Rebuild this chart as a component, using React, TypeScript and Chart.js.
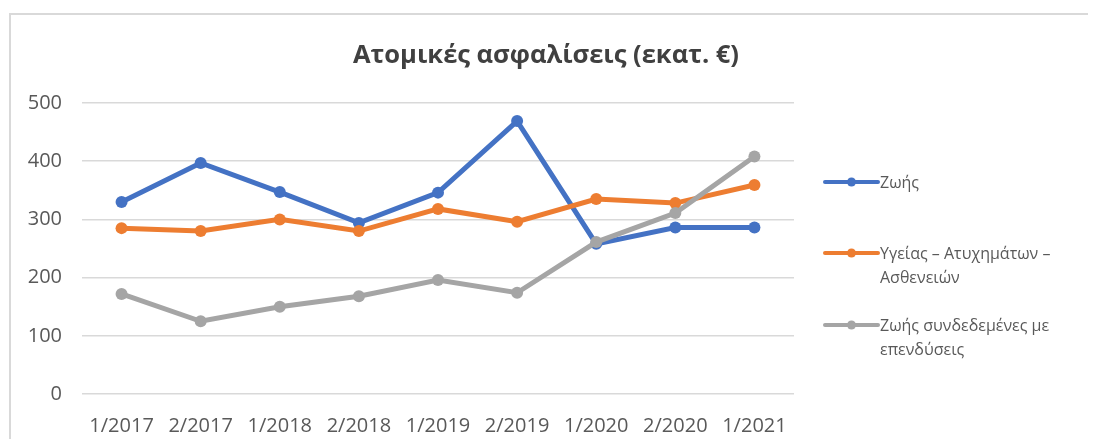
import React, { useEffect, useRef } from "react";
import { Chart, registerables } from "chart.js";

Chart.register(...registerables);

const categories = ["1/2017", "2/2017", "1/2018", "2/2018", "1/2019", "2/2019", "1/2020", "2/2020", "1/2021"];
const lifeValues = [330, 397, 347, 294, 346, 469, 258, 286, 286];
const healthValues = [285, 280, 300, 280, 318, 296, 335, 328, 359];
const investValues = [172, 125, 150, 168, 196, 174, 261, 311, 408];
const seriesNames = ["Ζωής", "Υγείας – Ατυχημάτων – Ασθενειών", "Ζωής συνδεδεμένες με επενδύσεις"];
const legendLines = [["Ζωής"], ["Υγείας – Ατυχημάτων –", "Ασθενειών"], ["Ζωής συνδεδεμένες με", "επενδύσεις"]];
const seriesColors = ["#4472C4", "#ED7D31", "#A5A5A5"];
const titleText = "Ατομικές ασφαλίσεις (εκατ. €)";

const FONT = "'Open Sans', 'Noto Sans', sans-serif";
const TEXT = "#595959";

const titleLegendPlugin = {
  id: "titleLegend",
  afterDraw(chart: any) {
    const ctx = chart.ctx;
    ctx.save();
    // title
    ctx.fillStyle = "#404040";
    ctx.font = `bold 25.5px ${FONT}`;
    ctx.textAlign = "center";
    ctx.textBaseline = "alphabetic";
    ctx.fillText(titleText, chart.width / 2, 48);
    // legend
    const x0 = chart.chartArea.right + 31;
    const x1 = x0 + 53;
    const tx = x1 + 2;
    const rows = [167, 238, 310];
    legendLines.forEach((lines, i) => {
      const y = rows[i];
      ctx.strokeStyle = seriesColors[i];
      ctx.lineWidth = 4;
      ctx.lineCap = "round";
      ctx.beginPath();
      ctx.moveTo(x0, y);
      ctx.lineTo(x1, y);
      ctx.stroke();
      ctx.fillStyle = seriesColors[i];
      ctx.beginPath();
      ctx.arc((x0 + x1) / 2, y, 4.5, 0, Math.PI * 2);
      ctx.fill();
      ctx.fillStyle = TEXT;
      ctx.font = `16px ${FONT}`;
      ctx.textBaseline = "middle";
      ctx.textAlign = "left";
      lines.forEach((t, j) => ctx.fillText(t, tx, y + 1 + j * 24));
    });
    ctx.restore();
  },
};

export default function App() {
  const ref = useRef<HTMLCanvasElement>(null);
  useEffect(() => {
    if (!ref.current) return;
    const mk = (data: number[], i: number, order: number) => ({
      label: seriesNames[i],
      data,
      borderColor: seriesColors[i],
      backgroundColor: seriesColors[i],
      borderWidth: 5,
      pointRadius: 6,
      pointBorderWidth: 0,
      pointBackgroundColor: seriesColors[i],
      tension: 0,
      order,
    });
    const chart = new Chart(ref.current, {
      type: "line",
      data: {
        labels: categories,
        datasets: [mk(lifeValues, 0, 3), mk(healthValues, 1, 2), mk(investValues, 2, 1)],
      },
      options: {
        animation: false,
        responsive: false,
        layout: { padding: { left: 0, right: 287, top: 88, bottom: 0 } },
        plugins: {
          legend: { display: false },
          tooltip: { enabled: false },
          title: { display: false },
        },
        scales: {
          x: {
            offset: true,
            grid: { display: false, drawTicks: false },
            border: { display: false },
            ticks: { color: TEXT, font: { family: FONT, size: 20 }, padding: 20, maxRotation: 0, autoSkip: false },
            afterFit: (axis: any) => {
              axis.height = 45;
            },
          },
          y: {
            min: 0,
            max: 500,
            ticks: { stepSize: 100, color: TEXT, font: { family: FONT, size: 20 }, padding: 20 },
            grid: { color: "#d9d9d9", lineWidth: 1.5, drawTicks: false },
            border: { display: false },
            afterFit: (axis: any) => {
              axis.width = 71;
            },
          },
        },
      },
      plugins: [titleLegendPlugin],
    });
    return () => chart.destroy();
  }, []);
  return (
    <div
      style={{
        marginTop: 5,
        marginLeft: 1,
        borderTop: "2px solid #d9d9d9",
        borderLeft: "2px solid #d9d9d9",
        width: 1080,
        height: 424,
        position: "relative",
      }}
    >
      <canvas ref={ref} width={1070} height={424} style={{ display: "block" }} />
    </div>
  );
}
